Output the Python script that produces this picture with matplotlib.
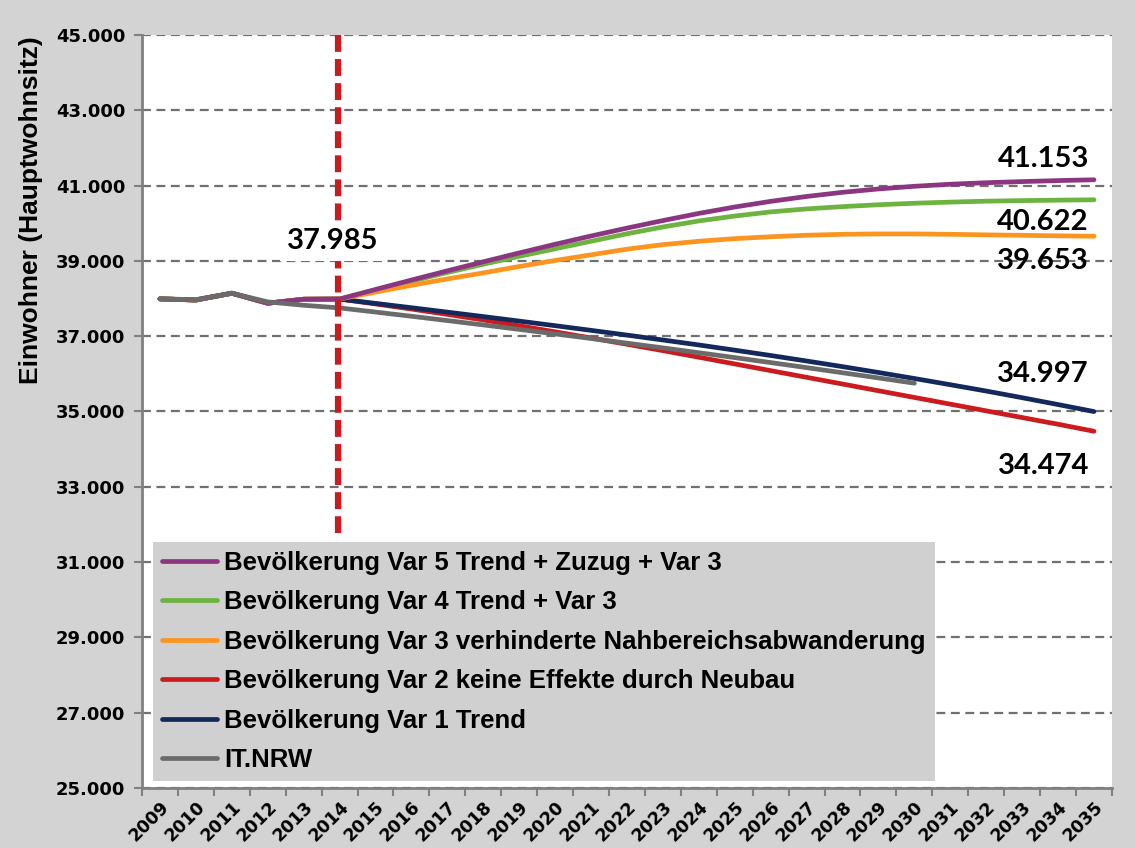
import numpy as np
import matplotlib.pyplot as plt
from matplotlib.ticker import FixedLocator, FuncFormatter

# Jahre und Bevölkerungsvarianten
jahre = [str(j) for j in range(2009, 2036)]

hist = [37990, 37960, 38140, 37875, 37980]  # 2009-2013, gemeinsam

var5 = hist + [37985, 38240, 38490, 38735, 38975, 39210, 39440, 39660, 39870, 40070,
               40260, 40430, 40580, 40710, 40820, 40910, 40980, 41035, 41075, 41105,
               41132, 41153]
var4 = hist + [37985, 38225, 38460, 38690, 38910, 39120, 39320, 39520, 39720, 39900,
               40060, 40190, 40300, 40380, 40440, 40490, 40530, 40560, 40585, 40600,
               40612, 40622]
var3 = hist + [37985, 38170, 38350, 38520, 38680, 38850, 39010, 39160, 39310, 39430,
               39520, 39590, 39640, 39680, 39705, 39715, 39715, 39705, 39690, 39678,
               39665, 39653]
var2 = hist + [37985, 37855, 37720, 37578, 37430, 37275, 37115, 36950, 36785, 36615,
               36440, 36262, 36084, 35906, 35728, 35550, 35372, 35194, 35016, 34838,
               34660, 34474]
var1 = hist + [37985, 37870, 37755, 37638, 37520, 37400, 37278, 37154, 37028, 36898,
               36766, 36628, 36486, 36340, 36190, 36035, 35875, 35710, 35542, 35365,
               35183, 34997]
itnrw = [37990, 37970, 38140, 37910, 37820, 37750, 37640, 37528, 37414, 37298, 37180,
         37060, 36938, 36814, 36688, 36560, 36430, 36298, 36164, 36028, 35890, 35750]

namen = ['Bevölkerung Var 5 Trend + Zuzug + Var 3',
         'Bevölkerung Var 4 Trend + Var 3',
         'Bevölkerung Var 3 verhinderte Nahbereichsabwanderung',
         'Bevölkerung Var 2 keine Effekte durch Neubau',
         'Bevölkerung Var 1 Trend',
         'IT.NRW']
farben = ['#8c3682', '#6cb33f', '#fb951f', '#cc1b1e', '#13295b', '#6b6b6b']

basisjahr = '2014'

hg = '#d3d3d3'
fig = plt.figure(figsize=(11.35, 8.48), dpi=100, facecolor=hg)
ax = fig.add_axes([0.1251, 0.0708, 0.8546, 0.888])
ax.set_facecolor('white')

x = np.arange(len(jahre))
reihen = [var5, var4, var3, var2, var1, itnrw]
zorder = [4, 3.8, 3.9, 3.5, 3.6, 4.2]
lines = []
for werte, name, farbe, z in zip(reihen, namen, farben, zorder):
    l, = ax.plot(x[:len(werte)], werte, color=farbe, lw=3.4, label=name,
                 solid_capstyle='round', zorder=z)
    lines.append(l)

# senkrechte Linie beim Basisjahr
xb = jahre.index(basisjahr) - 0.05
ax.plot([xb, xb], [45000, 31780], color='#cc1b1e', lw=4.5, ls=(0, (2.7, 1.15)),
        zorder=5, solid_capstyle='butt')

ax.set_xlim(-0.5, len(jahre) - 0.5)
ax.set_ylim(25000, 45000)
ax.set_yticks(np.arange(25000, 45001, 2000))
ax.yaxis.set_major_formatter(FuncFormatter(lambda v, p: f'{int(v):,}'.replace(',', '.')))
ax.grid(axis='y', color='#707070', lw=1.6, ls=(0, (4, 2.5)), zorder=1)
ax.set_axisbelow(True)

ax.set_xticks(x)
ax.set_xticklabels(jahre, rotation=45, ha='right', rotation_mode='anchor',
                   fontsize=12.5, fontweight='bold', family='DejaVu Sans')
ax.xaxis.set_minor_locator(FixedLocator(np.arange(-0.5, len(jahre), 1)))
ax.tick_params(axis='x', which='major', length=0, pad=7)
ax.tick_params(axis='x', which='minor', length=6, width=1.5, color='#808080')
ax.tick_params(axis='y', length=6, width=1.5, color='#808080', pad=6)
for lab in ax.get_yticklabels():
    lab.set_fontsize(13)
    lab.set_fontweight('bold')

for s in ['top', 'right']:
    ax.spines[s].set_visible(False)
for s in ['left', 'bottom']:
    ax.spines[s].set_color('#808080')
    ax.spines[s].set_linewidth(2)

fig.text(0.027, 0.752, 'Einwohner (Hauptwohnsitz)', rotation=90, ha='center',
         va='center', fontsize=19, fontweight='bold', family='Liberation Sans')

# Werte am Ende der Reihen
def fmt(v):
    return f'{v:,}'.replace(',', '.')

end_labels = [(var5[-1], 41700), (var4[-1], 40030), (var3[-1], 39000),
              (var1[-1], 36000), (var2[-1], 33550)]
for v, ly in end_labels:
    ax.text(25.86, ly, fmt(v), ha='right', va='center', fontsize=21,
            fontweight='bold', family='Lato', zorder=6)

ax.text(4.8, 39530, fmt(var1[5]), ha='center', va='center', fontsize=21,
        fontweight='bold', family='Lato', zorder=6,
        bbox=dict(facecolor='white', edgecolor='none', pad=5))

leg = ax.legend(handles=lines, loc='upper left', bbox_to_anchor=(0.0113, 0.3267),
                borderaxespad=0, frameon=True, fancybox=False, facecolor='#d0d0d0',
                edgecolor='none', framealpha=1, handlelength=2.15, handletextpad=0.27,
                labelspacing=0.6, borderpad=0.35,
                prop={'family': 'Liberation Sans', 'weight': 'bold', 'size': 18.5})
leg.set_zorder(7)

fig.savefig('out.png', dpi=100, facecolor=hg)
